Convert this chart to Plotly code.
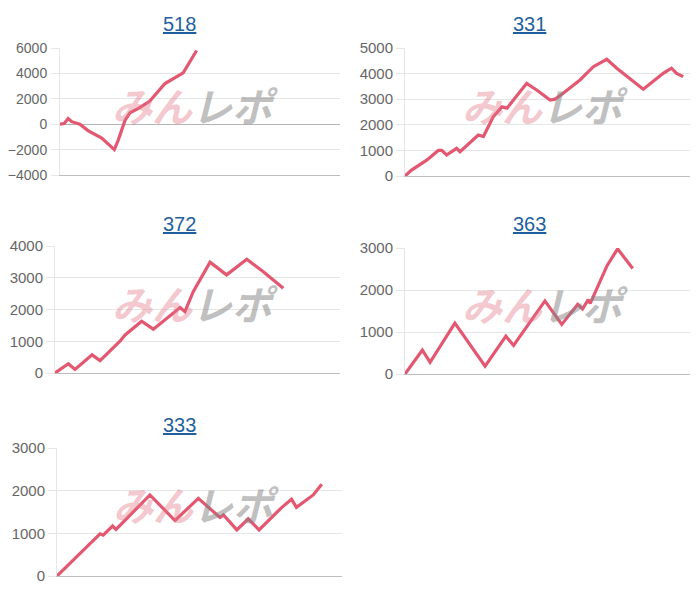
import plotly.graph_objects as go

titles = ["518", "331", "372", "363", "333"]

# x = position along each chart's horizontal axis (0-100), y = value
x518 = [0, 1.5, 2.9, 4.2, 7.1, 10, 14.9, 19.4, 20.8, 23.2, 25, 28, 32, 37.5, 44, 48.8]
y518 = [0, 50, 450, 200, 0, -500, -1100, -2000, -1250, 300, 900, 1250, 1800, 3200, 4050, 5800]

x331 = [0, 2.3, 7.6, 11.7, 12.9, 14.6, 18.1, 19.3, 25.7, 27.5, 31, 34, 35.8, 39.8, 42.7,
        46.2, 50.9, 52.6, 55.5, 61.4, 66.1, 70.8, 74.3, 83.6, 90.6, 93.5, 95.3, 97.6]
y331 = [0, 230, 620, 1000, 1000, 820, 1080, 950, 1600, 1540, 2320, 2700, 2650, 3230, 3620,
        3360, 2970, 3000, 3230, 3750, 4270, 4560, 4210, 3390, 4010, 4210, 4010, 3880]

x372 = [0, 4.7, 7.0, 13.0, 15.8, 22.8, 24.6, 30.4, 34.5, 39.2, 43.9, 45.6, 48.5, 54.4, 60.2, 67.3, 73.1, 80.1]
y372 = [0, 290, 115, 570, 390, 1000, 1200, 1630, 1380, 1720, 2060, 1930, 2560, 3490, 3090, 3580, 3190, 2670]

x363 = [0, 6.1, 8.8, 17.5, 28.1, 35.4, 38.1, 49.1, 55.0, 60.6, 62.3, 64.3, 65.0, 70.9, 74.6, 79.9]
y363 = [0, 570, 280, 1210, 185, 900, 680, 1740, 1180, 1660, 1550, 1770, 1680, 2580, 2980, 2510]

x333 = [0, 15.1, 16.2, 19.5, 20.7, 32.6, 41.4, 49.6, 57.2, 58.4, 63.1, 67.1, 70.9, 78.9, 82.3, 84.0, 89.9, 92.9]
y333 = [0, 990, 960, 1170, 1090, 1900, 1300, 1820, 1370, 1430, 1080, 1340, 1080, 1610, 1800, 1610, 1900, 2150]

series = [(x518, y518), (x331, y331), (x372, y372), (x363, y363), (x333, y333)]
y_ranges = [(-4000, 6000, 2000), (0, 5000, 1000), (0, 4000, 1000), (0, 3000, 1000), (0, 3000, 1000)]

W, H = 700, 600
OFF = 8  # page body margin offset
# plot boxes in screen pixels: left, right, top, bottom
boxes = [(60, 340, 48, 175), (405, 690, 48, 176), (55, 340, 246, 373), (405, 690, 248, 374), (57, 342, 448, 576)]
title_pos = [(179, 24), (529, 24), (179, 224), (529, 224), (179, 425)]
mark_pos = [(195, 105), (545, 105), (195, 303), (545, 304), (196, 504)]
standoffs = [1, 0, 0, 0, 0]
tick_sizes = [14, 15, 15, 15, 15]


def px(v):
    return (v - OFF) / W


def py(v):
    return 1 - (v - OFF) / H


LINE = "rgb(228,87,113)"
GRID = "#e6e6e6"

fig = go.Figure()
annotations = []
for i, ((xs, ys), (lo, hi, dt), (l, r, t, b)) in enumerate(zip(series, y_ranges, boxes)):
    n = "" if i == 0 else str(i + 1)
    fig.add_trace(go.Scatter(x=xs, y=ys, mode="lines", xaxis="x" + n, yaxis="y" + n,
                             line=dict(color=LINE, width=3.2), showlegend=False, hoverinfo="skip"))
    fig.layout["xaxis" + n] = dict(
        domain=[px(l), px(r)], range=[0, 100], anchor="y" + n, automargin=False,
        showgrid=False, zeroline=False, showticklabels=False, ticks="",
        showline=True, linecolor="#bdbdbd", linewidth=1, fixedrange=True)
    fig.layout["yaxis" + n] = dict(
        domain=[py(b), py(t)], range=[lo, hi], dtick=dt, tick0=0, anchor="x" + n,
        automargin=False,
        showgrid=True, gridcolor=GRID, gridwidth=1,
        zeroline=True, zerolinecolor="#b5b5b5", zerolinewidth=1,
        showline=True, linecolor=GRID, linewidth=1,
        ticks="outside", ticklen=8, tickcolor=GRID,
        ticklabelstandoff=standoffs[i],
        tickfont=dict(family="Liberation Sans, Arial", size=tick_sizes[i], color="#666666"),
        fixedrange=True)
    tx, ty = title_pos[i]
    annotations.append(dict(text="<u>" + titles[i] + "</u>", x=px(tx), y=py(ty),
                            xref="paper", yref="paper", showarrow=False,
                            xanchor="center", yanchor="middle",
                            font=dict(family="Liberation Sans, Arial", size=20, color="#1f5f9e")))
    mx, my = mark_pos[i]
    annotations.append(dict(
        text="<span style='color:rgba(226,120,135,0.42)'>みん</span>"
             "<span style='color:rgba(130,130,130,0.5)'>レポ</span>",
        x=px(mx), y=py(my), xref="paper", yref="paper", showarrow=False,
        xanchor="center", yanchor="middle",
        font=dict(family="Noto Sans CJK JP", size=40, weight="bold", style="italic")))

fig.update_layout(width=W, height=H, margin=dict(l=0, r=0, t=0, b=0),
                  paper_bgcolor="white", plot_bgcolor="white",
                  annotations=annotations)
fig.write_html("out.html")
